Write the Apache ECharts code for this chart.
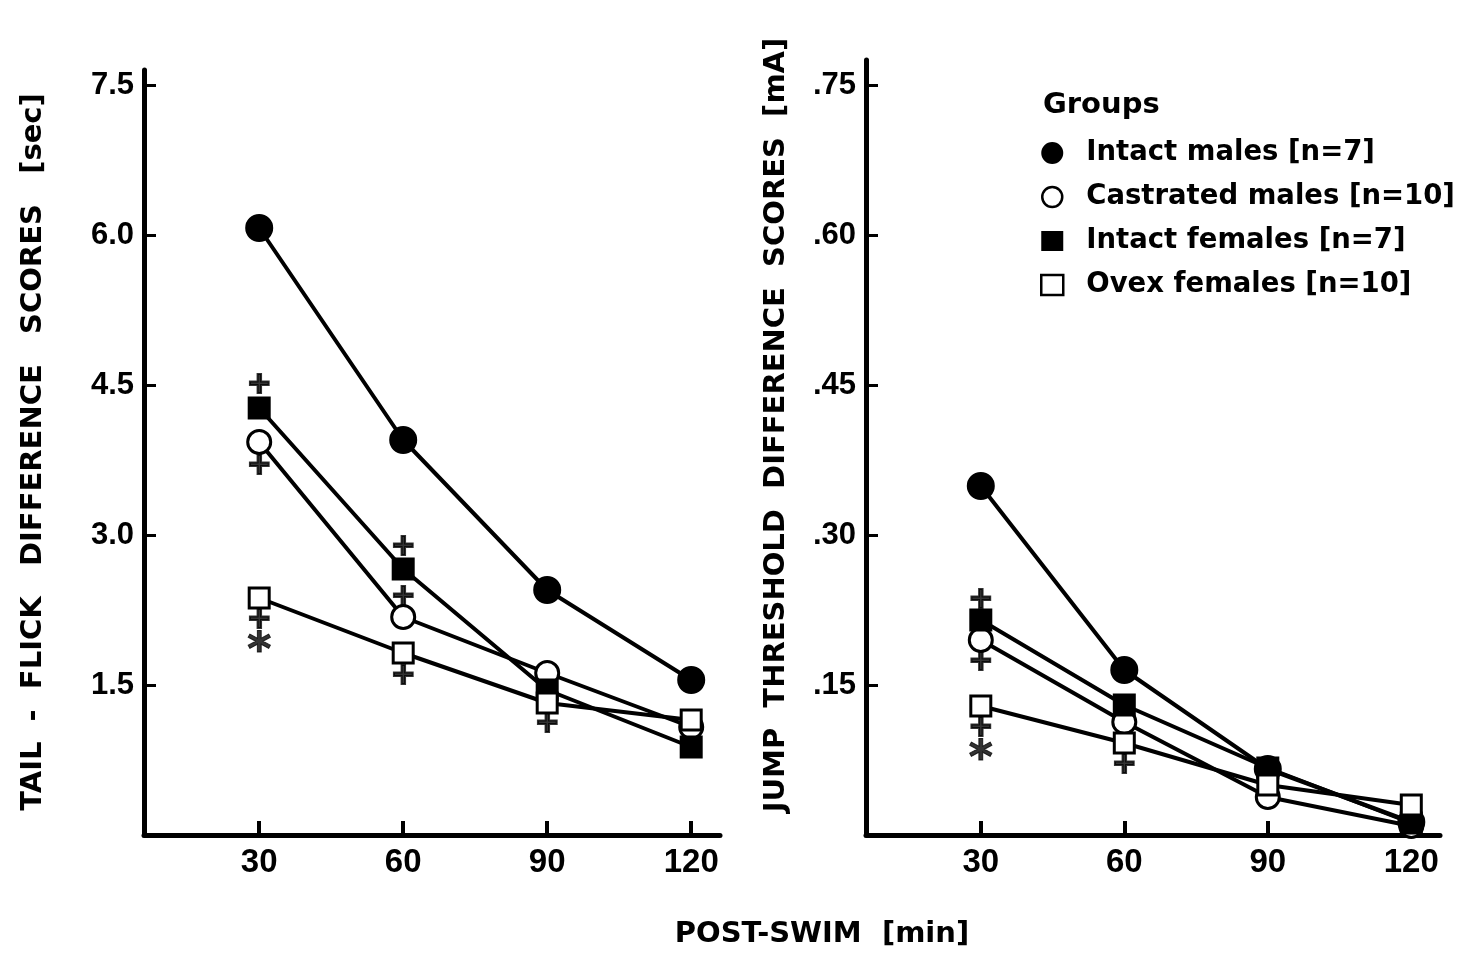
<!DOCTYPE html>
<html>
<head>
<meta charset="utf-8">
<script src="https://cdn.jsdelivr.net/npm/echarts@6/dist/echarts.min.js"></script>
<style>
  html, body { margin: 0; padding: 0; background: #fff; }
  #chart { width: 1457px; height: 954px; }
</style>
</head>
<body>
<div id="chart"></div>
<script>
// post-swim times (min)
const times = [30, 60, 90, 120];
const groups = ['Intact males [n=7]', 'Castrated males [n=10]', 'Intact females [n=7]', 'Ovex females [n=10]'];

// tail-flick difference scores (sec)
const tfIntactM = [6.07, 3.95, 2.45, 1.55];
const tfCastM = [3.93, 2.18, 1.62, 1.08];
const tfIntactF = [4.27, 2.66, 1.45, 0.88];
const tfOvexF = [2.37, 1.82, 1.32, 1.15];

// jump threshold difference scores (mA)
const jtIntactM = [0.349, 0.165, 0.066, 0.013];
const jtCastM = [0.195, 0.113, 0.038, 0.009];
const jtIntactF = [0.215, 0.130, 0.067, 0.012];
const jtOvexF = [0.129, 0.092, 0.050, 0.030];

// significance marks [time, y, sign]
const tfMarks = [[30, 4.50, '+'], [30, 3.69, '+'], [30, 2.15, '+'], [30, 1.90, '*'],
  [60, 2.88, '+'], [60, 2.38, '+'], [60, 1.59, '+'], [90, 1.11, '+']];
const jtMarks = [[30, 0.235, '+'], [30, 0.173, '+'], [30, 0.107, '+'], [30, 0.082, '*'],
  [60, 0.070, '+']];

const leftTicks = [1.5, 3.0, 4.5, 6.0, 7.5];
const rightTicks = [0.15, 0.30, 0.45, 0.60, 0.75];

const FONT = 'Liberation Sans';
const WIDE = 'DejaVu Sans';
const chart = echarts.init(document.getElementById('chart'));

const styles = [
  {symbol: 'circle', size: 25, fill: '#000'},
  {symbol: 'circle', size: 23, fill: '#fff'},
  {symbol: 'rect', size: 20, fill: '#000'},
  {symbol: 'rect', size: 20, fill: '#fff'}
];

function lineSeries(idx, data, axis) {
  const s = styles[idx];
  return {
    name: groups[idx],
    type: 'line',
    xAxisIndex: axis, yAxisIndex: axis,
    data: times.map((t, i) => [t, data[i]]),
    symbol: s.symbol,
    symbolSize: s.size,
    showAllSymbol: true,
    lineStyle: {color: '#000', width: 4},
    itemStyle: {color: s.fill, borderColor: '#000', borderWidth: 3},
    emphasis: {disabled: true},
    z: 3 + idx
  };
}

function markSeries(marks, axis) {
  return {
    type: 'scatter',
    xAxisIndex: axis, yAxisIndex: axis,
    data: marks,
    symbolSize: 1,
    itemStyle: {color: 'rgba(0,0,0,0)'},
    label: {
      show: true, position: 'inside',
      formatter: p => p.value[2] === '*' ? '{s|*}' : '{p|+}',
      rich: {
        p: {color: '#000', fontFamily: WIDE, fontWeight: 'bold', fontSize: 30,
          textBorderColor: '#000', textBorderWidth: 2},
        s: {color: '#000', fontFamily: WIDE, fontWeight: 'bold', fontSize: 46,
          textBorderColor: '#000', textBorderWidth: 1, padding: [16, 0, 0, 0]}
      }
    },
    emphasis: {disabled: true},
    z: 10
  };
}

function xAxis(grid) {
  return {
    type: 'value', gridIndex: grid, min: 6, max: 126,
    axisLine: {lineStyle: {color: '#000', width: 5}},
    axisTick: {show: true, inside: true, length: 14, lineStyle: {color: '#000', width: 4}, customValues: times},
    axisLabel: {customValues: times, color: '#000', fontFamily: FONT, fontWeight: 'bold', fontSize: 33, margin: 11},
    splitLine: {show: false}
  };
}

function yAxis(grid, max, ticks, fmt) {
  return {
    type: 'value', gridIndex: grid, min: 0, max: max,
    axisLine: {show: true, lineStyle: {color: '#000', width: 5}},
    axisTick: {show: true, inside: true, length: 12, lineStyle: {color: '#000', width: 3}, customValues: ticks},
    axisLabel: {customValues: ticks, formatter: fmt, color: '#000', fontFamily: FONT, fontWeight: 'bold', fontSize: 31, margin: 10},
    splitLine: {show: false}
  };
}

const titleStyle = {fill: '#000', font: 'bold 29px "DejaVu Sans"', textAlign: 'center', textVerticalAlign: 'middle'};

chart.setOption({
  backgroundColor: '#fff',
  animation: false,
  grid: [
    {left: 144, top: 70, width: 576, height: 765},
    {left: 866, top: 60, width: 574, height: 775}
  ],
  xAxis: [xAxis(0), xAxis(1)],
  yAxis: [
    yAxis(0, 7.65, leftTicks, v => v.toFixed(1)),
    yAxis(1, 0.775, rightTicks, v => v.toFixed(2).replace(/^0/, ''))
  ],
  legend: {
    left: 1035, top: 134, orient: 'vertical',
    itemWidth: 22, itemHeight: 20, itemGap: 16,
    textStyle: {color: '#000', fontFamily: WIDE, fontWeight: 'bold', fontSize: 27.5, padding: [0, 0, 0, 18]},
    data: [
      {name: groups[0], icon: 'circle'},
      {name: groups[1], icon: 'circle', itemStyle: {borderWidth: 2.5}},
      {name: groups[2], icon: 'rect', itemStyle: {borderWidth: 0}},
      {name: groups[3], icon: 'rect', itemStyle: {borderWidth: 2.5}}
    ],
    selectedMode: false
  },
  graphic: [
    {type: 'text', left: 1043, top: 91, style: {text: 'Groups', fill: '#000', font: 'bold 29px "DejaVu Sans"'}},
    {type: 'text', x: 33, y: 452, rotation: Math.PI / 2, style: Object.assign({text: 'TAIL  -  FLICK   DIFFERENCE   SCORES   [sec]'}, titleStyle)},
    {type: 'text', x: 776, y: 425, rotation: Math.PI / 2, style: Object.assign({text: 'JUMP  THRESHOLD  DIFFERENCE  SCORES  [mA]'}, titleStyle)},
    {type: 'text', x: 822, y: 934, style: Object.assign({text: 'POST-SWIM  [min]'}, titleStyle)}
  ],
  series: [
    lineSeries(0, tfIntactM, 0),
    lineSeries(1, tfCastM, 0),
    lineSeries(2, tfIntactF, 0),
    lineSeries(3, tfOvexF, 0),
    lineSeries(0, jtIntactM, 1),
    lineSeries(1, jtCastM, 1),
    lineSeries(2, jtIntactF, 1),
    lineSeries(3, jtOvexF, 1),
    markSeries(tfMarks, 0),
    markSeries(jtMarks, 1)
  ]
});
</script>
</body>
</html>
